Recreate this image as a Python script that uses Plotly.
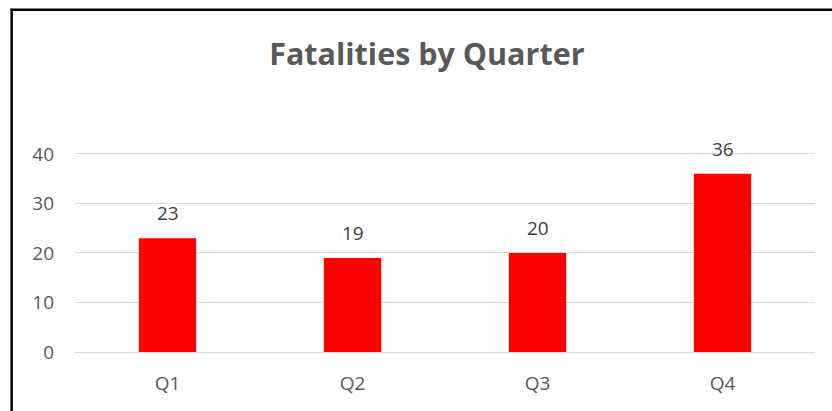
import plotly.graph_objects as go

categories = ["Q1", "Q2", "Q3", "Q4"]
fatalities = [23, 19, 20, 36]
y_ticks = [0, 10, 20, 30, 40]

W, H = 832, 411
FONT = "Open Sans"
YMAX = 40.4
L, R, B = 75.3, 17, 59.3
T = 154 - (YMAX - 40) * 4.94
pw = W - L - R
ph = H - T - B

def px_x(x):
    return (x - L) / pw

def px_y(y):
    return (H - B - y) / ph

fig = go.Figure()
fig.add_trace(go.Bar(
    x=categories, y=fatalities,
    marker=dict(color="#FF0000", line=dict(width=0)),
    textposition="none",
    cliponaxis=False,
    hoverinfo="skip",
))

for c, v in zip(categories, fatalities):
    fig.add_annotation(
        x=c, y=v, text=str(v), showarrow=False,
        yanchor="middle", yshift=25,
        font=dict(family=FONT, size=19, color="#404040"),
    )

fig.update_layout(
    width=W, height=H,
    margin=dict(l=L, r=R, t=T, b=B, pad=0),
    paper_bgcolor="white", plot_bgcolor="white",
    bargap=0.69,
    showlegend=False,
    font=dict(family=FONT, color="#595959"),
    title=dict(
        text="<b>Fatalities by Quarter</b>",
        x=px_x(427), xref="paper", xanchor="center",
        y=1 - 54 / H, yref="container", yanchor="middle",
        font=dict(family=FONT, size=30.5, color="#595959"),
    ),
    xaxis=dict(
        showgrid=False, showline=True, linecolor="#D9D9D9", linewidth=1,
        ticks="", tickfont=dict(family=FONT, size=19, color="#595959"),
        ticklabelstandoff=14,
    ),
    yaxis=dict(
        range=[0, YMAX], tickvals=y_ticks,
        showgrid=True, gridcolor="#D9D9D9", gridwidth=1,
        zeroline=True, zerolinecolor="#D9D9D9", zerolinewidth=1,
        showline=False, ticks="",
        tickfont=dict(family=FONT, size=19, color="#595959"),
        ticklabelstandoff=20,
    ),
    shapes=[
        dict(type="line", xref="paper", yref="paper",
             x0=px_x(12), x1=px_x(12), y0=px_y(9), y1=px_y(H),
             line=dict(color="black", width=2.5)),
        dict(type="line", xref="paper", yref="paper",
             x0=px_x(10.8), x1=px_x(W), y0=px_y(10), y1=px_y(10),
             line=dict(color="black", width=2.5)),
    ],
)

fig.write_html("out.html", config={"displayModeBar": False})
with open("out.html", encoding="utf-8") as f:
    html = f.read()
html = html.replace("<head>", "<head><style>html,body{margin:0;padding:0;overflow:hidden;}</style>", 1)
with open("out.html", "w", encoding="utf-8") as f:
    f.write(html)
